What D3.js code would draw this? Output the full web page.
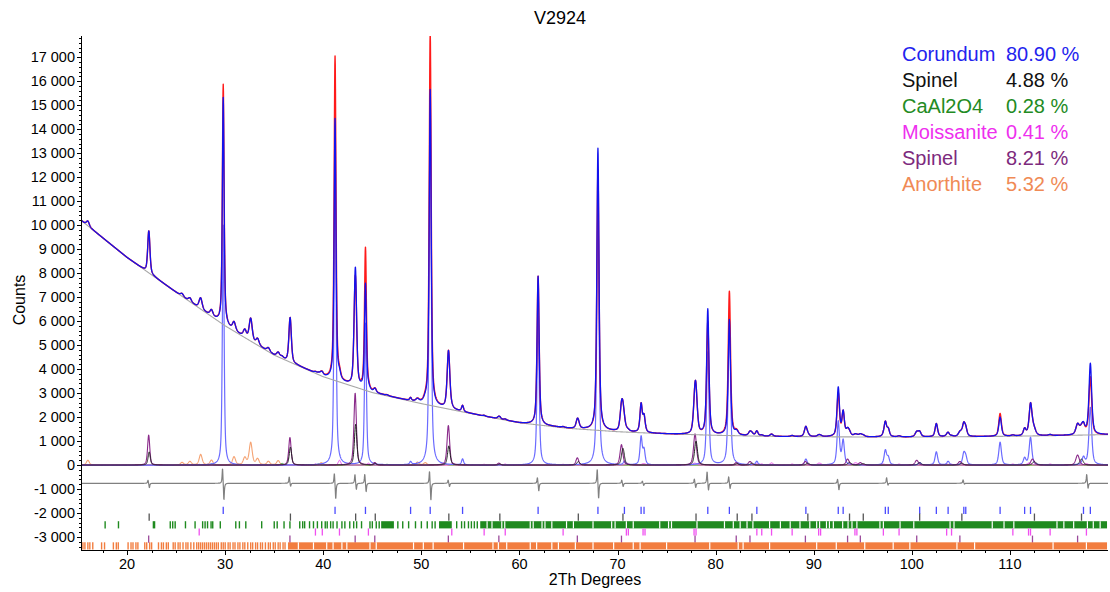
<!DOCTYPE html>
<html>
<head>
<meta charset="utf-8">
<script src="https://cdn.jsdelivr.net/npm/d3@7"></script>
<style>
  body { margin: 0; background: #fff; }
  svg { font-family: "Liberation Sans", Arial, sans-serif; }
</style>
</head>
<body>
<svg id="chart" width="1110" height="592"></svg>
<script>
// background (counts) read at every 5 degrees
var bgAngles = [15, 20, 25, 30, 35, 40, 45, 50, 55, 60, 65, 70, 75, 80, 85, 90, 95, 100, 105, 110, 115, 120];
var bgCounts = [10300, 8650, 7200, 5800, 4580, 3680, 3020, 2560, 2150, 1760, 1530, 1390, 1300, 1240, 1200, 1180, 1170, 1170, 1180, 1200, 1230, 1270];

// phase peaks: position (2Th) and net height (counts)
var corundumPos = [29.8, 41.2, 44.3, 48.9, 50.9, 54.2, 61.9, 68.0, 70.7, 72.4, 72.7, 79.2, 81.4, 84.2, 89.2, 92.5, 93.0, 97.3, 97.6, 100.8, 102.5, 103.7, 105.3, 105.5, 109.0, 111.5, 112.1, 117.5, 118.2];
var corundumHt = [10000, 13500, 5900, 120, 15500, 250, 6200, 10850, 150, 1150, 600, 4700, 6000, 150, 250, 1800, 1000, 600, 300, 100, 550, 150, 450, 300, 950, 280, 1150, 300, 2400];
var spinelPos = [22.25, 36.65, 43.3, 45.3, 52.8, 58.0, 66.0, 70.55, 78.0, 82.2, 83.7, 89.4, 93.65, 95.05, 100.8, 105.1, 112.5, 117.3];
var spinelHt = [550, 750, 1700, 60, 800, 40, 150, 700, 1000, 60, 80, 80, 120, 60, 100, 80, 150, 250];
var spinel2Pos = [22.2, 36.6, 43.25, 45.25, 52.75, 57.9, 65.9, 70.4, 77.9, 82.1, 83.5, 89.15, 93.45, 94.75, 100.5, 104.9, 112.3, 116.9];
var spinel2Ht = [1250, 1150, 3000, 100, 1650, 80, 300, 850, 1300, 100, 150, 150, 250, 100, 200, 150, 250, 420];
var moissPos = [27.35, 39.2, 39.9, 41.65, 44.6, 53.1, 56.4, 58.55, 64.45, 70.9, 71.1, 72.6, 72.8, 77.8, 78.0, 84.2, 84.7, 85.7, 87.8, 90.5, 90.7, 94.2, 94.4, 97.1, 98.7, 103.55, 104.05, 110.3, 111.9, 112.1, 114.1, 117.8];
var moissHt = [30, 40, 60, 200, 80, 50, 30, 40, 30, 60, 40, 50, 30, 60, 40, 50, 40, 90, 40, 60, 40, 70, 50, 40, 40, 40, 30, 40, 60, 50, 40, 60];
var caal2o4Pos = [28.6, 35.8, 39.5, 46.5, 52.5];
var caal2o4Ht = [40, 70, 40, 30, 30];
var anorthPos = [16.0, 25.6, 26.4, 27.5, 28.6, 30.9, 32.0, 32.6, 33.3, 34.4, 35.4, 39.8, 49.6, 50.4];
var anorthHt = [200, 110, 150, 440, 200, 340, 300, 930, 250, 150, 180, 100, 120, 100];

// observed minus calculated at the peak tops
var residPos = [29.8, 41.2, 43.3, 44.3, 50.9, 68.0, 79.2, 81.4, 92.5, 109.0, 118.2];
var residHt = [-550, -2600, 380, -1500, -2350, 900, 530, -1180, 230, -150, 560];

// difference curve spikes (offset line at -760)
var diffBase = -760;
var diffPos = [22.2, 29.8, 36.6, 41.2, 43.3, 44.3, 50.9, 52.8, 61.9, 68.0, 70.5, 72.6, 77.9, 79.2, 81.4, 92.5, 97.5, 105.3, 117.9];
var diffUp = [150, 700, 280, 480, 400, 420, 580, 150, 270, 660, 150, 100, 200, 520, 300, 200, 250, 150, 400];
var diffDown = [200, 770, 150, 700, 300, 400, 770, 150, 350, 700, 150, 100, 200, 340, 250, 300, 100, 50, 250];

// reflection markers for CaAl2O4 and Anorthite
var greenTicks = [17.76, 19.12, 22.68, 22.8, 24.4, 24.65, 24.9, 25.95, 26.93, 27.7, 27.95, 28.2, 28.56, 28.73, 29.5, 31.08, 31.45, 32.1, 33.72, 35.0, 35.3, 36.0, 36.6, 37.6, 37.9, 38.1, 38.6, 39.0, 39.4, 39.84, 40.2, 40.4, 40.75, 41.0, 41.4, 41.9, 42.2, 42.7, 43.1, 43.4, 43.9, 44.76, 45.0, 45.4, 45.7, 47.6, 48.1, 48.7, 49.4, 50.0, 50.6, 51.1, 51.4, 53.6, 54.1, 54.4, 54.8, 55.1, 55.4, 55.7];
var greenBands = [[45.9, 47.2], [51.8, 53.1], [56.0, 119.9]];
var greenGaps = [56.7, 57.2, 58.2, 58.5, 61.1, 61.4, 62.3, 62.6, 63.3, 64.8, 65.5, 67.5, 69.4, 69.75, 70.9, 71.6, 74.3, 75.2, 75.5, 78.1, 80.9, 81.8, 82.5, 83.2, 83.8, 85.5, 86.6, 87.6, 88.6, 89.6, 90.3, 90.6, 91.3, 91.6, 92.0, 92.95, 93.5, 93.9, 94.4, 96.75, 97.1, 98.8, 100.2, 103.9, 104.3, 108.2, 109.4, 110.4, 114.8, 115.5, 116.5, 117.9, 118.5, 119.2];
var orangeTicks = [15.5, 15.7, 16.0, 16.2, 16.5, 17.4, 17.7, 18.6, 18.9, 19.1, 20.1, 20.4, 20.6, 20.9, 21.1, 21.8, 22.0, 22.3, 22.5, 23.2, 23.5, 23.7, 24.0, 24.2, 24.7, 24.9, 25.2, 25.4, 25.7, 26.0, 26.2, 26.5, 26.8, 27.1, 27.3, 27.5, 27.7, 27.9, 28.1, 28.3, 28.5, 28.7, 28.9, 29.1, 29.3, 29.6, 29.8, 30.0, 30.3, 30.5, 30.8, 31.0, 31.3, 31.5, 31.8, 32.0, 32.3, 32.6, 32.8, 33.1, 33.3, 33.6, 33.8, 34.1, 34.4, 34.6, 34.9, 35.1, 35.4, 35.6, 35.9, 36.1];
var orangeBands = [[36.4, 119.9]];
var orangeGaps = [37.46, 39.0, 40.35, 41.0, 41.9, 42.4, 44.76, 45.4, 49.2, 50.2, 51.2, 54.3, 57.3, 57.85, 58.7, 61.1, 61.75, 63.3, 63.97, 65.7, 67.5, 69.6, 71.6, 72.3, 75.0, 79.4, 82.3, 82.8, 85.5, 90.3, 92.3, 95.2, 98.1, 99.8, 104.6, 106.4, 114.4, 117.8];

var xTickLabels = [20, 30, 40, 50, 60, 70, 80, 90, 100, 110];
var yTickLabels = [-3000, -2000, -1000, 0, 1000, 2000, 3000, 4000, 5000, 6000, 7000, 8000, 9000, 10000, 11000, 12000, 13000, 14000, 15000, 16000, 17000];

var legendNames = ['Corundum', 'Spinel', 'CaAl2O4', 'Moissanite', 'Spinel', 'Anorthite'];
var legendPct = ['80.90 %', '4.88 %', '0.28 %', '0.41 %', '8.21 %', '5.32 %'];
var legendColors = ['#2323ee', '#111111', '#238b23', '#ee2fee', '#7d2a7d', '#f08a55'];

// -------------------------------------------------------------
var svg = d3.select('#chart');
var x = d3.scaleLinear().domain([15.3, 120]).range([81, 1108]);
var y = d3.scaleLinear().domain([-3540, 17880]).range([550, 36]);
var bg = d3.scaleLinear().domain(bgAngles).range(bgCounts);

var grid = d3.range(15.3, 120.0001, 0.02);

// pseudo-Voigt peak
function pv(t, c, h, w, eta) {
    var d = (t - c) / w;
    return h * (eta / (1 + 4 * d * d) + (1 - eta) * Math.exp(-2.7726 * d * d));
}
function profile(pos, ht, w0, w1, eta) {
    return grid.map(function(t) {
        var s = 0;
        for (var i = 0; i < pos.length; i++) {
            if (Math.abs(t - pos[i]) > 5) continue;
            var w = w0 + (w1 - w0) * (pos[i] - 15) / 105;
            s += pv(t, pos[i], ht[i], w, eta);
        }
        return s;
    });
}

var cor = profile(corundumPos, corundumHt, 0.19, 0.33, 0.6);
var sp1 = profile(spinelPos, spinelHt, 0.25, 0.42, 0.5);
var sp2 = profile(spinel2Pos, spinel2Ht, 0.25, 0.42, 0.5);
var moi = profile(moissPos, moissHt, 0.25, 0.4, 0.5);
var caa = profile(caal2o4Pos, caal2o4Ht, 0.3, 0.4, 0.5);
var ano = profile(anorthPos, anorthHt, 0.35, 0.45, 0.5);
var res = profile(residPos, residHt, 0.19, 0.33, 0.6);

var calc = grid.map(function(t, i) { return bg(t) + cor[i] + sp1[i] + sp2[i] + moi[i] + caa[i] + ano[i]; });
var obs = calc.map(function(v, i) { return v + res[i]; });
var diff = grid.map(function(t) {
    var s = diffBase;
    for (var i = 0; i < diffPos.length; i++) {
        if (Math.abs(t - diffPos[i]) > 3) continue;
        s += pv(t, diffPos[i] - 0.07, diffUp[i], 0.1, 1) - pv(t, diffPos[i] + 0.07, diffDown[i], 0.1, 1);
    }
    return s;
});

svg.append('clipPath').attr('id', 'plotclip')
    .append('rect').attr('x', 81).attr('y', 36).attr('width', 1027).attr('height', 514);

var plot = svg.append('g').attr('clip-path', 'url(#plotclip)');
var line = d3.line().x(function(d) { return x(d[0]); }).y(function(d) { return y(d[1]); });

function drawCurve(vals, color, width) {
    plot.append('path')
        .datum(grid.map(function(t, i) { return [t, vals[i]]; }))
        .attr('d', line)
        .attr('fill', 'none')
        .attr('stroke', color)
        .attr('stroke-width', width)
        .attr('stroke-linejoin', 'round');
}

drawCurve(ano, '#f5a373', 1.1);
drawCurve(caa, '#2a9a2a', 1);
drawCurve(moi, '#ee44ee', 1);
drawCurve(cor, '#6b6bff', 1.2);
drawCurve(sp2, '#8a2a8a', 1.1);
drawCurve(sp1, '#222222', 1);
drawCurve(grid.map(bg), '#a8a8a8', 1.1);
drawCurve(calc, '#ff1a1a', 1.4);
drawCurve(obs, '#1212ee', 1.3);
drawCurve(diff, '#808080', 1.2);

// reflection marker rows
var tickHalf = 150;
function tickRow(pos, center, color, width) {
    plot.append('g').selectAll('line').data(pos).join('line')
        .attr('x1', function(d) { return x(d); }).attr('x2', function(d) { return x(d); })
        .attr('y1', y(center + tickHalf)).attr('y2', y(center - tickHalf))
        .attr('stroke', color).attr('stroke-width', width);
}
function bandRow(bands, gaps, center, color) {
    plot.append('g').selectAll('rect').data(bands).join('rect')
        .attr('x', function(d) { return x(d[0]); })
        .attr('width', function(d) { return x(d[1]) - x(d[0]); })
        .attr('y', y(center + tickHalf))
        .attr('height', y(center - tickHalf) - y(center + tickHalf))
        .attr('fill', color);
    tickRow(gaps, center, '#ffffff', 1.2);
}

tickRow(corundumPos, -1890, '#4b4bff', 1.3);
tickRow(spinelPos, -2170, '#555555', 1.3);
tickRow(greenTicks, -2490, '#1f8a1f', 1.4);
bandRow(greenBands, greenGaps, -2490, '#1f8a1f');
tickRow(moissPos, -2790, '#f050f0', 1.3);
tickRow(spinel2Pos, -3090, '#9a4a9a', 1.3);
tickRow(orangeTicks, -3370, '#f27d3f', 1.4);
bandRow(orangeBands, orangeGaps, -3370, '#f27d3f');

// axes
var axes = svg.append('g').attr('stroke', '#000').attr('stroke-width', 1);
axes.append('line').attr('x1', 81.5).attr('x2', 81.5).attr('y1', 36).attr('y2', 550.5);
axes.append('line').attr('x1', 81).attr('x2', 1108).attr('y1', 550.5).attr('y2', 550.5);

axes.selectAll('.ymin').data(d3.range(-3400, 17801, 200)).join('line')
    .attr('x1', 79).attr('x2', 81.5)
    .attr('y1', function(d) { return Math.round(y(d)) + 0.5; })
    .attr('y2', function(d) { return Math.round(y(d)) + 0.5; });
axes.selectAll('.ymaj').data(yTickLabels).join('line')
    .attr('x1', 77).attr('x2', 81.5)
    .attr('y1', function(d) { return Math.round(y(d)) + 0.5; })
    .attr('y2', function(d) { return Math.round(y(d)) + 0.5; });
axes.selectAll('.xmin').data(d3.range(17.5, 120, 2.5)).join('line')
    .attr('x1', function(d) { return Math.round(x(d)) + 0.5; })
    .attr('x2', function(d) { return Math.round(x(d)) + 0.5; })
    .attr('y1', 550.5).attr('y2', function(d) { return d % 10 === 0 ? 555 : 553; });

var fmt = function(v) { return d3.format(',')(v).replace(',', ' ').replace('−', '-'); };

svg.append('g').selectAll('text').data(yTickLabels).join('text')
    .attr('x', 75).attr('y', function(d) { return y(d); })
    .attr('dy', '0.35em').attr('text-anchor', 'end')
    .style('font-size', '14.5px').text(fmt);

svg.append('g').selectAll('text').data(xTickLabels).join('text')
    .attr('x', function(d) { return x(d); }).attr('y', 569)
    .attr('text-anchor', 'middle')
    .style('font-size', '14.5px').text(function(d) { return d; });

svg.append('text').attr('x', 560).attr('y', 24).attr('text-anchor', 'middle')
    .style('font-size', '18px').text('V2924');
svg.append('text').attr('transform', 'translate(25,300) rotate(-90)').attr('text-anchor', 'middle')
    .style('font-size', '16px').text('Counts');
svg.append('text').attr('x', 595).attr('y', 585).attr('text-anchor', 'middle')
    .style('font-size', '16px').text('2Th Degrees');

// phase legend
var leg = svg.append('g');
leg.selectAll('.name').data(legendNames).join('text')
    .attr('x', 902).attr('y', function(d, i) { return 61 + i * 26; })
    .attr('fill', function(d, i) { return legendColors[i]; })
    .style('font-size', '20px').text(function(d) { return d; });
leg.selectAll('.pct').data(legendPct).join('text')
    .attr('x', 1006).attr('y', function(d, i) { return 61 + i * 26; })
    .attr('fill', function(d, i) { return legendColors[i]; })
    .style('font-size', '20px').text(function(d) { return d; });
</script>
</body>
</html>
